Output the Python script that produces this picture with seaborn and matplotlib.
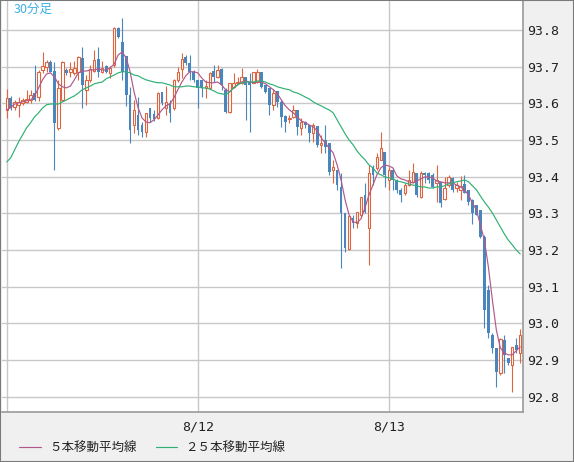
import numpy as np
import pandas as pd
import matplotlib
matplotlib.use("Agg")
import matplotlib.pyplot as plt
from matplotlib.patches import Rectangle
import seaborn as sns

# 30-minute candles (8/11 00:00 onward)
open_ = [93.582, 93.615, 93.590, 93.596, 93.601, 93.604, 93.609, 93.628, 93.617, 93.691,
         93.699, 93.713, 93.688, 93.533, 93.609, 93.691, 93.686, 93.683, 93.686, 93.724,
         93.637, 93.664, 93.688, 93.721, 93.686, 93.702, 93.683, 93.705, 93.806, 93.767,
         93.729, 93.623, 93.541, 93.568, 93.541, 93.522, 93.588, 93.571, 93.560, 93.631,
         93.588, 93.601, 93.588, 93.664, 93.694, 93.727, 93.710, 93.686, 93.664, 93.664,
         93.642, 93.642, 93.688, 93.672, 93.694, 93.637, 93.577, 93.645, 93.656, 93.656,
         93.672, 93.658, 93.656, 93.658, 93.686, 93.650, 93.642, 93.596, 93.634, 93.604,
         93.566, 93.558, 93.563, 93.582, 93.533, 93.549, 93.541, 93.519, 93.538, 93.487,
         93.500, 93.492, 93.418, 93.418, 93.372, 93.301, 93.203, 93.288, 93.274, 93.296,
         93.350, 93.260, 93.424, 93.424, 93.446, 93.467, 93.391, 93.418, 93.391, 93.364,
         93.356, 93.377, 93.386, 93.410, 93.345, 93.410, 93.410, 93.405, 93.383, 93.386,
         93.339, 93.377, 93.397, 93.369, 93.364, 93.380, 93.364, 93.337, 93.323, 93.309,
         93.236, 93.091, 92.968, 92.933, 92.865, 92.955, 92.906, 92.887, 92.941, 92.919]
high = [93.639, 93.620, 93.609, 93.617, 93.615, 93.637, 93.637, 93.705, 93.691, 93.740,
        93.718, 93.718, 93.713, 93.664, 93.716, 93.697, 93.713, 93.716, 93.729, 93.754,
        93.677, 93.705, 93.746, 93.754, 93.716, 93.705, 93.702, 93.808, 93.808, 93.833,
        93.729, 93.645, 93.609, 93.617, 93.549, 93.574, 93.588, 93.582, 93.631, 93.631,
        93.647, 93.609, 93.667, 93.699, 93.737, 93.732, 93.732, 93.691, 93.664, 93.664,
        93.664, 93.686, 93.705, 93.705, 93.697, 93.642, 93.656, 93.683, 93.672, 93.697,
        93.672, 93.683, 93.686, 93.694, 93.686, 93.650, 93.642, 93.639, 93.634, 93.609,
        93.568, 93.568, 93.596, 93.582, 93.560, 93.552, 93.541, 93.547, 93.538, 93.514,
        93.541, 93.492, 93.446, 93.418, 93.410, 93.301, 93.296, 93.296, 93.304, 93.345,
        93.383, 93.432, 93.432, 93.465, 93.522, 93.467, 93.427, 93.424, 93.394, 93.369,
        93.383, 93.418, 93.437, 93.410, 93.416, 93.413, 93.413, 93.410, 93.432, 93.386,
        93.399, 93.405, 93.399, 93.386, 93.402, 93.405, 93.364, 93.339, 93.323, 93.309,
        93.241, 93.105, 92.974, 92.933, 92.960, 92.968, 92.906, 92.936, 92.960, 92.985]
low = [93.560, 93.582, 93.582, 93.563, 93.596, 93.601, 93.601, 93.607, 93.607, 93.683,
       93.686, 93.686, 93.418, 93.527, 93.607, 93.677, 93.672, 93.677, 93.664, 93.588,
       93.596, 93.658, 93.686, 93.672, 93.683, 93.683, 93.669, 93.699, 93.778, 93.664,
       93.593, 93.492, 93.519, 93.514, 93.508, 93.508, 93.549, 93.552, 93.558, 93.596,
       93.568, 93.549, 93.582, 93.658, 93.669, 93.705, 93.664, 93.658, 93.588, 93.617,
       93.615, 93.642, 93.658, 93.669, 93.637, 93.574, 93.574, 93.642, 93.653, 93.653,
       93.555, 93.522, 93.656, 93.656, 93.642, 93.628, 93.568, 93.582, 93.590, 93.536,
       93.522, 93.547, 93.560, 93.514, 93.514, 93.533, 93.495, 93.495, 93.481, 93.465,
       93.465, 93.405, 93.383, 93.364, 93.151, 93.195, 93.200, 93.260, 93.260, 93.290,
       93.301, 93.159, 93.377, 93.418, 93.446, 93.372, 93.364, 93.364, 93.356, 93.331,
       93.350, 93.375, 93.383, 93.345, 93.342, 93.383, 93.383, 93.369, 93.331, 93.317,
       93.337, 93.372, 93.358, 93.358, 93.337, 93.356, 93.323, 93.271, 93.296, 93.233,
       92.988, 92.960, 92.919, 92.827, 92.859, 92.865, 92.887, 92.813, 92.919, 92.892]
close = [93.615, 93.588, 93.604, 93.604, 93.609, 93.612, 93.623, 93.609, 93.686, 93.702,
         93.713, 93.686, 93.547, 93.642, 93.713, 93.683, 93.694, 93.697, 93.727, 93.650,
         93.664, 93.694, 93.718, 93.686, 93.697, 93.686, 93.697, 93.806, 93.781, 93.686,
         93.623, 93.527, 93.582, 93.527, 93.522, 93.574, 93.560, 93.558, 93.628, 93.601,
         93.604, 93.574, 93.664, 93.686, 93.721, 93.710, 93.686, 93.664, 93.642, 93.642,
         93.647, 93.683, 93.672, 93.691, 93.650, 93.577, 93.656, 93.656, 93.658, 93.672,
         93.650, 93.650, 93.686, 93.686, 93.645, 93.631, 93.596, 93.628, 93.604, 93.563,
         93.549, 93.560, 93.582, 93.536, 93.549, 93.541, 93.519, 93.541, 93.487, 93.492,
         93.481, 93.413, 93.427, 93.377, 93.301, 93.206, 93.293, 93.274, 93.304, 93.345,
         93.304, 93.410, 93.405, 93.454, 93.478, 93.405, 93.418, 93.391, 93.364, 93.350,
         93.377, 93.391, 93.413, 93.350, 93.410, 93.405, 93.391, 93.372, 93.391, 93.328,
         93.369, 93.399, 93.364, 93.377, 93.375, 93.356, 93.331, 93.301, 93.296, 93.236,
         93.037, 92.974, 92.933, 92.868, 92.958, 92.914, 92.892, 92.936, 92.927, 92.968]

# moving averages as drawn on the chart
ma5 = [93.582, 93.588, 93.598, 93.601, 93.604, 93.607, 93.609, 93.620, 93.642, 93.664,
       93.680, 93.683, 93.672, 93.653, 93.645, 93.642, 93.647, 93.664, 93.683, 93.688,
       93.688, 93.691, 93.691, 93.694, 93.691, 93.691, 93.697, 93.707, 93.732, 93.740,
       93.724, 93.686, 93.631, 93.588, 93.560, 93.549, 93.547, 93.555, 93.568, 93.582,
       93.593, 93.598, 93.615, 93.637, 93.658, 93.675, 93.686, 93.686, 93.683, 93.669,
       93.658, 93.656, 93.656, 93.658, 93.650, 93.637, 93.631, 93.642, 93.650, 93.658,
       93.661, 93.658, 93.656, 93.658, 93.658, 93.653, 93.645, 93.637, 93.626, 93.609,
       93.593, 93.582, 93.574, 93.563, 93.552, 93.547, 93.541, 93.536, 93.525, 93.506,
       93.492, 93.478, 93.465, 93.432, 93.391, 93.337, 93.296, 93.277, 93.274, 93.285,
       93.315, 93.350, 93.377, 93.405, 93.424, 93.432, 93.429, 93.424, 93.402, 93.394,
       93.391, 93.386, 93.383, 93.388, 93.394, 93.399, 93.399, 93.397, 93.388, 93.386,
       93.383, 93.383, 93.383, 93.377, 93.372, 93.364, 93.350, 93.328, 93.309, 93.268,
       93.227, 93.154, 93.064, 92.982, 92.933, 92.919, 92.914, 92.914, 92.925, 92.936]
ma25 = [93.440, 93.451, 93.473, 93.495, 93.514, 93.533, 93.547, 93.563, 93.574, 93.587,
        93.596, 93.598, 93.598, 93.598, 93.604, 93.609, 93.615, 93.620, 93.628, 93.637,
        93.642, 93.647, 93.653, 93.656, 93.658, 93.667, 93.672, 93.677, 93.683, 93.686,
        93.686, 93.683, 93.677, 93.675, 93.669, 93.664, 93.661, 93.658, 93.656, 93.656,
        93.653, 93.650, 93.645, 93.645, 93.645, 93.647, 93.647, 93.645, 93.645, 93.642,
        93.642, 93.639, 93.634, 93.628, 93.626, 93.623, 93.631, 93.642, 93.650, 93.656,
        93.658, 93.658, 93.658, 93.661, 93.661, 93.658, 93.653, 93.650, 93.645, 93.642,
        93.639, 93.637, 93.631, 93.628, 93.623, 93.617, 93.612, 93.604, 93.598, 93.593,
        93.587, 93.582, 93.574, 93.555, 93.536, 93.517, 93.500, 93.487, 93.470, 93.457,
        93.446, 93.432, 93.424, 93.410, 93.405, 93.399, 93.397, 93.394, 93.388, 93.386,
        93.383, 93.380, 93.377, 93.375, 93.372, 93.372, 93.369, 93.369, 93.372, 93.372,
        93.375, 93.380, 93.383, 93.386, 93.388, 93.391, 93.386, 93.375, 93.364, 93.347,
        93.331, 93.317, 93.301, 93.282, 93.263, 93.244, 93.227, 93.214, 93.200, 93.189]

ytick_labels = ["92.8", "92.9", "93.0", "93.1", "93.2", "93.3",
                "93.4", "93.5", "93.6", "93.7", "93.8"]
date_labels = ["8/12", "8/13"]
title = "30分足"
legend_labels = ["５本移動平均線", "２５本移動平均線"]

times = pd.date_range("2010-08-11 00:00", periods=len(close), freq="30min")
df = pd.DataFrame({"time": times, "open": open_, "high": high, "low": low,
                   "close": close, "ma5": ma5, "ma25": ma25})
df["n"] = np.arange(len(df))
up = df[df["close"] >= df["open"]]
down = df[df["close"] < df["open"]]

RED = "#dc643f"
BLUE = "#4a86be"
PINK = "#b2588a"
GREEN = "#2fb073"

sns.set_style("white")
plt.rcParams["font.family"] = ["Noto Sans CJK JP", "DejaVu Sans"]

fig = plt.figure(figsize=(5.74, 4.62), dpi=100, facecolor="#f0f0f0")
ax = fig.add_axes([2 / 574, 50 / 462, 521 / 574, 411 / 462])
ax.set_facecolor("white")

# wicks
ax.vlines(up["n"], up["low"], up["high"], color=RED, lw=0.8, zorder=2)
ax.vlines(down["n"], down["low"], down["high"], color=BLUE, lw=0.8, zorder=2)
# bodies: hollow when up, filled when down
ax.bar(up["n"], np.maximum(up["close"] - up["open"], 0.002), bottom=up["open"],
       width=0.6, facecolor="white", edgecolor=RED, lw=0.8, zorder=3)
ax.bar(down["n"], np.maximum(down["open"] - down["close"], 0.002), bottom=down["close"],
       width=0.7, color=BLUE, lw=0, zorder=3)

sns.lineplot(data=df, x="n", y="ma5", color=PINK, lw=0.85, ax=ax, zorder=4,
             label=legend_labels[0])
sns.lineplot(data=df, x="n", y="ma25", color=GREEN, lw=0.85, ax=ax, zorder=4,
             label=legend_labels[1])

ax.set_xlim(-1.18, 129.7)
ax.set_ylim(92.758, 93.879)

# y axis on the right
ax.set_yticks([float(t) for t in ytick_labels])
ax.set_yticklabels(ytick_labels, family="DejaVu Sans Mono", fontsize=9.5, color="#222222")
ax.yaxis.tick_right()
ax.tick_params(axis="y", length=0, pad=3)

# day boundaries
midnight = df[(df["time"].dt.hour == 0) & (df["time"].dt.minute == 0)]
xlabels = []
for t in midnight["time"]:
    s = f"{t.month}/{t.day}"
    xlabels.append(s if s in date_labels else "")
ax.set_xticks(midnight["n"])
ax.set_xticklabels(xlabels, family="DejaVu Sans Mono", fontsize=9.5, color="#222222")
ax.tick_params(axis="x", length=0, pad=6)

ax.grid(True, color="#c8c8c8", lw=1.0, zorder=0)
ax.set_axisbelow(True)
ax.set_xlabel("")
ax.set_ylabel("")

for side in ["top", "left"]:
    ax.spines[side].set_visible(False)
for side in ["right", "bottom"]:
    ax.spines[side].set_color("#9a9a9a")
    ax.spines[side].set_linewidth(1.2)

ax.legend_.remove()
handles, labels = ax.get_legend_handles_labels()
fig.legend(handles, labels, loc="center left", bbox_to_anchor=(8 / 574, 14 / 462),
           ncol=2, frameon=False, fontsize=9, handlelength=1.7, handletextpad=0.7,
           columnspacing=1.5, labelcolor="#222222")

fig.text(14 / 574, 1 - 3 / 462, title, color="#3cb0e6", fontsize=9, va="top", ha="left")

# outer frame
fig.patches.append(Rectangle((0, 0), 1, 1, transform=fig.transFigure, fill=False,
                             edgecolor="#7a7a7a", lw=1.5, zorder=10))

fig.savefig("out.png", dpi=100, facecolor=fig.get_facecolor())
